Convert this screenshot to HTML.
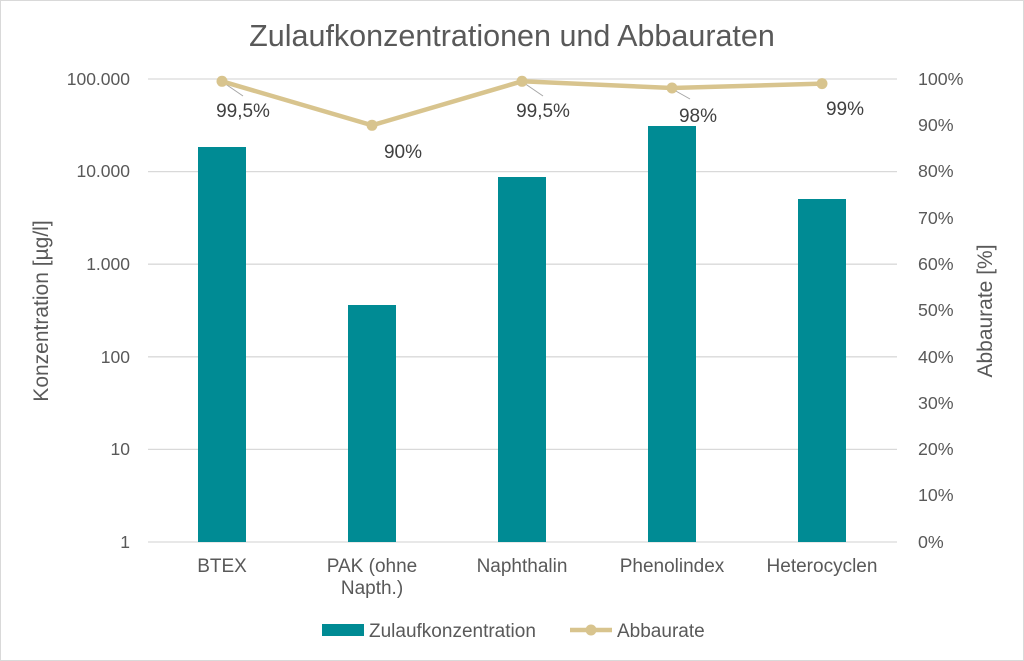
<!DOCTYPE html>
<html><head><meta charset="utf-8"><style>
body{margin:0;background:#fff}
svg{display:block;font-family:"Liberation Sans",sans-serif}
</style></head><body>
<svg width="1024" height="661" viewBox="0 0 1024 661">
<rect x="0.5" y="0.5" width="1023" height="660" fill="#fff" stroke="#d9d9d9"/>
<text x="512" y="46" font-size="30.5" fill="#595959" text-anchor="middle">Zulaufkonzentrationen und Abbauraten</text>
<g stroke="#d9d9d9" stroke-width="1.3">
<line x1="148" x2="897" y1="79" y2="79"/><line x1="148" x2="897" y1="171.6" y2="171.6"/>
<line x1="148" x2="897" y1="264.2" y2="264.2"/><line x1="148" x2="897" y1="356.8" y2="356.8"/>
<line x1="148" x2="897" y1="449.4" y2="449.4"/><line x1="148" x2="897" y1="542" y2="542"/>
</g>
<g fill="#595959" font-size="17.5" text-anchor="end">
<text x="130" y="85">100.000</text><text x="130" y="177">10.000</text><text x="130" y="270">1.000</text>
<text x="130" y="363">100</text><text x="130" y="455">10</text><text x="130" y="548">1</text>
</g>
<g fill="#595959" font-size="17.8" text-anchor="start">
<text x="918" y="85">100%</text><text x="918" y="131">90%</text><text x="918" y="177">80%</text>
<text x="918" y="224">70%</text><text x="918" y="270">60%</text><text x="918" y="316">50%</text>
<text x="918" y="363">40%</text><text x="918" y="409">30%</text><text x="918" y="455">20%</text>
<text x="918" y="501">10%</text><text x="918" y="548">0%</text>
</g>
<text transform="translate(48,311) rotate(-90)" font-size="21" fill="#595959" text-anchor="middle">Konzentration [µg/l]</text>
<text transform="translate(992,311) rotate(-90)" font-size="21" fill="#595959" text-anchor="middle">Abbaurate [%]</text>
<g fill="#008b94">
<rect x="198" y="147" width="48" height="395"/>
<rect x="348" y="305" width="48" height="237"/>
<rect x="498" y="177" width="48" height="365"/>
<rect x="648" y="126" width="48" height="416"/>
<rect x="798" y="199" width="48" height="343"/>
</g>
<g fill="#595959" font-size="19" text-anchor="middle">
<text x="222" y="572">BTEX</text><text x="372" y="572">PAK (ohne</text><text x="372" y="594">Napth.)</text>
<text x="522" y="572">Naphthalin</text><text x="672" y="572">Phenolindex</text><text x="822" y="572">Heterocyclen</text>
</g>
<g stroke="#a6a6a6" stroke-width="1"><line x1="224" y1="83" x2="243" y2="96"/><line x1="524" y1="83" x2="543" y2="96"/><line x1="674" y1="90" x2="690" y2="99"/></g>
<polyline points="222,81.3 372,125.3 522,81.3 672,88 822,83.6" fill="none" stroke="#d8c48e" stroke-width="4.5"/>
<g fill="#d8c48e"><circle cx="222" cy="81.3" r="5.5"/><circle cx="372" cy="125.3" r="5.5"/><circle cx="522" cy="81.3" r="5.5"/><circle cx="672" cy="88" r="5.5"/><circle cx="822" cy="83.6" r="5.5"/></g>
<g fill="#404040" font-size="19" text-anchor="middle">
<text x="243" y="117">99,5%</text><text x="403" y="158">90%</text><text x="543" y="117">99,5%</text>
<text x="698" y="122">98%</text><text x="845" y="115">99%</text>
</g>
<rect x="322" y="624" width="42" height="12" fill="#008b94"/>
<text x="369" y="637" font-size="19" fill="#595959">Zulaufkonzentration</text>
<line x1="570" y1="630" x2="612" y2="630" stroke="#d8c48e" stroke-width="4.5"/>
<circle cx="591" cy="630" r="5.5" fill="#d8c48e"/>
<text x="617" y="637" font-size="19" fill="#595959">Abbaurate</text>
</svg>
</body></html>
